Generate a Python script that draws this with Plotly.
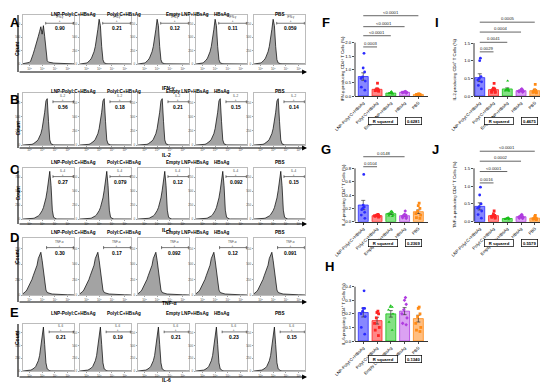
import plotly.graph_objects as go

W, H = 550, 391

# ---------------- data ----------------
groups = ["LNP-PolyI:C+HBsAg", "PolyI:C+HBsAg", "Empty LNP+HBsAg", "HBsAg", "PBS"]
cytokines = ["IFN-γ", "IL-2", "IL-4", "TNF-α", "IL-6"]

# flow histogram bins (log10 fluorescence)
bins = [1.5, 1.6, 1.7, 1.8, 1.9, 2.0, 2.1, 2.2, 2.3, 2.4, 2.5, 2.6, 2.7, 2.8, 2.9, 3.0,
        3.1, 3.2, 3.3, 3.4, 3.5, 3.6, 3.7, 3.8, 3.9, 4.0, 4.1, 4.2, 4.3, 4.4, 4.5, 4.6,
        4.7, 4.8, 4.9, 5.0, 5.1, 5.2, 5.3, 5.4, 5.5]
log_ticks = [2, 3, 4, 5]
log_ticktext = ["10<sup>2</sup>", "10<sup>3</sup>", "10<sup>4</sup>", "10<sup>5</sup>"]
count_ticks = [0, 250, 500, 750]

hist_A1 = [6, 8, 10, 14, 20, 30, 55, 110, 190, 270, 340, 420, 520, 610, 700, 560, 720, 520, 200, 60,
           35, 28, 24, 20, 18, 16, 14, 12, 12, 10, 9, 8, 8, 7, 6, 6, 5, 4, 4, 3, 3]
hist_A = [0, 2, 4, 6, 10, 18, 30, 48, 75, 110, 160, 230, 330, 470, 650, 840, 720, 330, 80, 20,
          8, 5, 3, 2, 2, 1, 1, 1, 0, 0, 0, 0, 0, 0, 0, 0, 0, 0, 0, 0, 0]
hist_B = [0, 0, 1, 2, 3, 5, 8, 12, 20, 32, 48, 70, 100, 140, 200, 290, 410, 580, 780, 820,
          420, 90, 20, 6, 3, 2, 1, 0, 0, 0, 0, 0, 0, 0, 0, 0, 0, 0, 0, 0, 0]
hist_C = [0, 0, 0, 0, 1, 2, 4, 7, 12, 18, 26, 38, 55, 78, 110, 150, 205, 280, 380, 520,
          700, 860, 600, 160, 30, 8, 3, 1, 0, 0, 0, 0, 0, 0, 0, 0, 0, 0, 0, 0, 0]
hist_D = [20, 35, 55, 80, 120, 160, 210, 250, 310, 360, 430, 480, 590, 640, 690, 560, 400, 200, 80, 40,
          30, 25, 20, 16, 14, 12, 10, 9, 8, 7, 6, 5, 5, 4, 4, 3, 3, 2, 2, 2, 1]
hist_E = [0, 1, 2, 4, 7, 12, 18, 28, 42, 62, 90, 135, 200, 300, 470, 720, 860, 520, 160, 40,
          12, 5, 2, 1, 0, 0, 0, 0, 0, 0, 0, 0, 0, 0, 0, 0, 0, 0, 0, 0, 0]

gate_A = ["0.90", "0.21", "0.12", "0.11", "0.059"]
gate_B = ["0.56", "0.18", "0.21", "0.15", "0.14"]
gate_C = ["0.27", "0.079", "0.12", "0.092", "0.15"]
gate_D = ["0.30", "0.17", "0.092", "0.12", "0.091"]
gate_E = ["0.21", "0.19", "0.21", "0.23", "0.15"]

# bar charts: means, SEM and individual mice
F_means = [0.73, 0.25, 0.11, 0.14, 0.06]
F_sem = [0.14, 0.04, 0.015, 0.01, 0.005]
F_pts = [[1.6, 1.05, 0.9, 0.72, 0.66, 0.56, 0.33, 0.22],
         [0.48, 0.27, 0.25, 0.22, 0.2, 0.22, 0.18, 0.2],
         [0.17, 0.14, 0.12, 0.1, 0.09, 0.08, 0.11, 0.09],
         [0.17, 0.16, 0.15, 0.14, 0.13, 0.12, 0.14, 0.11],
         [0.08, 0.07, 0.06, 0.06, 0.05, 0.05, 0.06, 0.05]]
F_sig = [(1, "0.0003"), (2, "<0.0001"), (3, "<0.0001"), (4, "<0.0001")]

I_means = [0.52, 0.18, 0.20, 0.15, 0.15]
I_sem = [0.11, 0.03, 0.03, 0.015, 0.03]
I_pts = [[1.07, 1.0, 0.55, 0.5, 0.45, 0.4, 0.3, 0.2],
         [0.36, 0.22, 0.2, 0.18, 0.15, 0.12, 0.1, 0.1],
         [0.43, 0.2, 0.2, 0.18, 0.17, 0.16, 0.15, 0.14],
         [0.2, 0.18, 0.17, 0.15, 0.14, 0.13, 0.12, 0.11],
         [0.33, 0.18, 0.15, 0.13, 0.12, 0.11, 0.1, 0.09]]
I_sig = [(1, "0.0029"), (2, "0.0041"), (3, "0.0004"), (4, "0.0005")]

G_means = [0.25, 0.09, 0.12, 0.09, 0.15]
G_sem = [0.07, 0.01, 0.012, 0.014, 0.027]
G_pts = [[0.71, 0.25, 0.22, 0.2, 0.18, 0.14, 0.1, 0.05],
         [0.11, 0.1, 0.1, 0.09, 0.08, 0.08, 0.07, 0.09],
         [0.16, 0.15, 0.14, 0.12, 0.1, 0.09, 0.08, 0.12],
         [0.16, 0.11, 0.1, 0.09, 0.08, 0.06, 0.05, 0.07],
         [0.28, 0.24, 0.2, 0.16, 0.12, 0.1, 0.06, 0.05]]
G_sig = [(1, "0.0104"), (3, "0.0148")]

J_means = [0.43, 0.17, 0.09, 0.14, 0.1]
J_sem = [0.1, 0.025, 0.008, 0.014, 0.014]
J_pts = [[0.97, 0.75, 0.5, 0.42, 0.38, 0.3, 0.2, 0.1],
         [0.3, 0.22, 0.18, 0.15, 0.12, 0.1, 0.15, 0.13],
         [0.12, 0.1, 0.09, 0.08, 0.08, 0.07, 0.1, 0.06],
         [0.2, 0.18, 0.15, 0.13, 0.12, 0.1, 0.15, 0.09],
         [0.18, 0.14, 0.1, 0.09, 0.08, 0.07, 0.06, 0.08]]
J_sig = [(1, "0.0016"), (2, "<0.0001"), (3, "0.0002"), (4, "<0.0001")]

H_means = [0.21, 0.15, 0.2, 0.22, 0.165]
H_sem = [0.033, 0.025, 0.024, 0.026, 0.025]
H_pts = [[0.37, 0.24, 0.24, 0.22, 0.2, 0.18, 0.1, 0.05],
         [0.22, 0.21, 0.2, 0.17, 0.13, 0.1, 0.08, 0.04],
         [0.26, 0.25, 0.25, 0.23, 0.2, 0.14, 0.08],
         [0.32, 0.3, 0.27, 0.23, 0.2, 0.17, 0.13, 0.12],
         [0.25, 0.24, 0.2, 0.18, 0.13, 0.1, 0.07, 0.08]]
H_sig = []

# ---------------- style / layout ----------------
FONT = "Liberation Sans, Arial, sans-serif"
edge = ["#2b2bff", "#ff2323", "#18c018", "#b03ce0", "#ff8a14"]
fill = ["rgba(70,70,255,0.65)", "rgba(255,70,70,0.65)", "rgba(50,205,50,0.6)",
        "rgba(195,100,235,0.6)", "rgba(255,155,60,0.65)"]
symbols = ["circle", "square", "triangle-up", "diamond", "square"]


def X(px):
    return px / W


def Y(py):
    return 1 - py / H


def ax(n):
    return "" if n == 1 else str(n)


fig = go.Figure()
layout = dict(width=W, height=H, margin=dict(l=0, r=0, t=0, b=0, autoexpand=False),
              paper_bgcolor="white", plot_bgcolor="white", showlegend=False,
              font=dict(family=FONT, color="black"))
shapes = []
annotations = []


def text(x, y, s, size, **kw):
    d = dict(x=x, y=y, text=s, showarrow=False, xref="paper", yref="paper",
             font=dict(size=size, family=FONT, color="black"))
    d.update(kw)
    annotations.append(d)


# ---------------- bar charts ----------------
charts = [
    dict(L="F", cyt="IFN-γ", means=F_means, sem=F_sem, pts=F_pts, sig=F_sig, r2="0.6281",
         ticks=[0, 0.5, 1.0, 1.5, 2.0], tt=["0.0", "0.5", "1.0", "1.5", "2.0"],
         xpx=(355, 428), ypx=(96, 8), yr=3.3, xr=[-0.6, 4.7], sig_y=[1.84, 2.26, 2.6, 3.01],
         ttl_x=343, let=(326, 13), r2y=117, r2x=383),
    dict(L="I", cyt="IL-2", means=I_means, sem=I_sem, pts=I_pts, sig=I_sig, r2="0.4675",
         ticks=[0, 0.5, 1.0, 1.5], tt=["0.0", "0.5", "1.0", "1.5"],
         xpx=(474, 540), ypx=(96, 7.7), yr=2.5, xr=[-0.42, 4.38], sig_y=[1.25, 1.52, 1.81, 2.09],
         ttl_x=459, let=(441, 13), r2y=117, r2x=499),
    dict(L="G", cyt="IL-4", means=G_means, sem=G_sem, pts=G_pts, sig=G_sig, r2="0.2369",
         ticks=[0, 0.2, 0.4, 0.6, 0.8], tt=["0.0", "0.2", "0.4", "0.6", "0.8"],
         xpx=(355, 428), ypx=(221.7, 148.4), yr=1.1, xr=[-0.6, 4.7], sig_y=[0.825, 0.975],
         ttl_x=343, let=(326, 149), r2y=243, r2x=383),
    dict(L="J", cyt="TNF-α", means=J_means, sem=J_sem, pts=J_pts, sig=J_sig, r2="0.5579",
         ticks=[0, 0.5, 1.0, 1.5], tt=["0.0", "0.5", "1.0", "1.5"],
         xpx=(474, 540), ypx=(221.7, 143.4), yr=2.2, xr=[-0.42, 4.38], sig_y=[1.09, 1.41, 1.70, 1.98],
         ttl_x=459, let=(441, 149), r2y=243, r2x=499),
    dict(L="H", cyt="IL-6", means=H_means, sem=H_sem, pts=H_pts, sig=H_sig, r2="0.1340",
         ticks=[0, 0.1, 0.2, 0.3, 0.4], tt=["0.0", "0.1", "0.2", "0.3", "0.4"],
         xpx=(355, 428), ypx=(341, 284), yr=0.42, xr=[-0.6, 4.7], sig_y=[],
         ttl_x=343, let=(329, 276), r2y=363, r2x=383),
]

for i, ch in enumerate(charts):
    n = i + 1
    a = ax(n)
    layout["xaxis" + a] = dict(domain=[X(ch["xpx"][0]), X(ch["xpx"][1])], anchor="y" + a,
                               type="category", categoryorder="array", categoryarray=groups,
                               range=ch["xr"], showline=True, linecolor="black", linewidth=0.8,
                               ticks="outside", ticklen=2, tickwidth=0.7, tickangle=-45,
                               tickcolor="black", automargin=False,
                               tickfont=dict(size=4.3, family=FONT), showgrid=False, zeroline=False)
    layout["yaxis" + a] = dict(domain=[Y(ch["ypx"][0]), Y(ch["ypx"][1])], anchor="x" + a,
                               range=[0, ch["yr"]], showline=False, tickvals=ch["ticks"],
                               ticktext=ch["tt"], ticks="outside", ticklen=2, tickwidth=0.7,
                               tickcolor="black", automargin=False,
                               tickfont=dict(size=4.3, family=FONT), showgrid=False, zeroline=False)
    fig.add_trace(go.Bar(x=groups, y=ch["means"], width=0.72, xaxis="x" + a, yaxis="y" + a,
                         marker=dict(color=fill, line=dict(color=edge, width=0.8)),
                         error_y=dict(type="data", array=ch["sem"], color="#333", thickness=0.7, width=2),
                         hoverinfo="skip"))
    for g in range(5):
        pts = ch["pts"][g]
        fig.add_trace(go.Box(x=[groups[g]] * len(pts), y=pts, xaxis="x" + a, yaxis="y" + a,
                             boxpoints="all", jitter=0.75, pointpos=0, width=0.6,
                             fillcolor="rgba(0,0,0,0)", line=dict(width=0, color="rgba(0,0,0,0)"),
                             marker=dict(size=2.8, color=edge[g], symbol=symbols[g]),
                             hoverinfo="skip"))
    # y axis line up to top tick
    shapes.append(dict(type="line", xref="x" + a + " domain", yref="y" + a, x0=0, x1=0,
                       y0=0, y1=ch["ticks"][-1], line=dict(color="black", width=0.8)))
    # significance brackets
    for (j, lab), yv in zip(ch["sig"], ch["sig_y"]):
        shapes.append(dict(type="line", xref="x" + a, yref="y" + a, x0=0, x1=j, y0=yv, y1=yv,
                           line=dict(color="#222", width=0.7)))
        annotations.append(dict(x=j / 2, y=yv, xref="x" + a, yref="y" + a, text=lab,
                                showarrow=False, yshift=3.5,
                                font=dict(size=4.2, family=FONT, color="#222")))
    # y title
    annotations.append(dict(x=X(ch["ttl_x"]), y=ch["ticks"][-1] / 2, xref="paper", yref="y" + a,
                            text=f"{ch['cyt']}-producing CD4<sup>+</sup> T Cells (%)",
                            textangle=-90, showarrow=False,
                            font=dict(size=4.3, family=FONT, color="black")))
    # panel letter
    text(X(ch["let"][0]), Y(ch["let"][1]), f"<b>{ch['L']}</b>", 13)
    # R squared box
    text(X(ch["r2x"] + 15), Y(ch["r2y"]), "<b>R squared</b>", 4.2, width=28, height=6,
         bordercolor="black", borderwidth=0.7, borderpad=0.5, bgcolor="white")
    text(X(ch["r2x"] + 39), Y(ch["r2y"]), f"<b>{ch['r2']}</b>", 4.2, width=15, height=6,
         bordercolor="black", borderwidth=0.7, borderpad=0.5, bgcolor="white")

# ---------------- flow histograms ----------------
hist_rows = [
    dict(L="A", h=[hist_A1, hist_A, hist_A, hist_A, hist_A], g=gate_A, gl=3.28),
    dict(L="B", h=[hist_B] * 5, g=gate_B, gl=3.85),
    dict(L="C", h=[hist_C] * 5, g=gate_C, gl=3.85),
    dict(L="D", h=[hist_D] * 5, g=gate_D, gl=3.35),
    dict(L="E", h=[hist_E] * 5, g=gate_E, gl=3.55),
]
panel_left = [23, 80, 138, 196, 254]
panel_w = 51
row_box = [(15, 64), (93, 145), (168, 219), (238, 295), (324, 371)]
row_title = [10, 87, 163, 232, 318]
row_axis = [72, 148, 224, 302, 377]
row_label = [83, 155, 230, 308, 385]
row_letter = [13, 90, 170, 237, 322]
GATE_Y = 765
AX_LEFT, AX_RIGHT = 18, 307

for r, row in enumerate(hist_rows):
    top, bot = row_box[r]
    for c in range(5):
        n = 6 + r * 5 + c
        a = ax(n)
        layout["xaxis" + a] = dict(domain=[X(panel_left[c]), X(panel_left[c] + panel_w)], anchor="y" + a,
                                   range=[1.5, 5.5], showline=True, mirror=True, linecolor="#a0a0a0",
                                   linewidth=0.7, ticks="outside", ticklen=1.5, tickwidth=0.5,
                                   tickcolor="#444", tickvals=log_ticks, ticktext=log_ticktext,
                                   automargin=False,
                                   tickfont=dict(size=3, family=FONT, color="#555"),
                                   showgrid=False, zeroline=False)
        layout["yaxis" + a] = dict(domain=[Y(bot), Y(top)], anchor="x" + a, range=[0, 920],
                                   showline=True, mirror=True, linecolor="#a0a0a0", linewidth=0.7,
                                   ticks="outside", ticklen=1.5, tickwidth=0.5, tickcolor="#444",
                                   tickvals=count_ticks, tickfont=dict(size=3, family=FONT, color="#555"),
                                   automargin=False, showgrid=False, zeroline=False)
        fig.add_trace(go.Scatter(x=bins, y=row["h"][c], xaxis="x" + a, yaxis="y" + a, mode="lines",
                                 line=dict(color="black", width=0.7), fill="tozeroy",
                                 fillcolor="#a3a3a3", hoverinfo="skip"))
        gl, gr = row["gl"], 5.45
        shapes.append(dict(type="line", xref="x" + a, yref="y" + a, x0=gl, x1=gr, y0=GATE_Y, y1=GATE_Y,
                           line=dict(color="#222", width=0.6)))
        for gx in (gl, gr):
            shapes.append(dict(type="line", xref="x" + a, yref="y" + a, x0=gx, x1=gx,
                               y0=GATE_Y - 25, y1=GATE_Y + 25, line=dict(color="#222", width=0.6)))
        annotations.append(dict(x=(gl + gr) / 2, y=GATE_Y, xref="x" + a, yref="y" + a,
                                text=f"<b>{row['g'][c]}</b>", showarrow=False, yshift=-5,
                                font=dict(size=5.0, family=FONT, color="black")))
        annotations.append(dict(x=(gl + gr) / 2, y=GATE_Y, xref="x" + a, yref="y" + a,
                                text=f"{cytokines[r]}<br>+", showarrow=False, yshift=4,
                                font=dict(size=3, family=FONT, color="#444")))
        text(X(panel_left[c] + panel_w / 2), Y(row_title[r]), f"<b>{groups[c]}</b>", 4.6)
    # big L-shaped axes
    shapes.append(dict(type="line", xref="paper", yref="paper", x0=X(AX_LEFT), x1=X(AX_LEFT),
                       y0=Y(top), y1=Y(row_axis[r]), line=dict(color="black", width=1.1)))
    annotations.append(dict(x=X(AX_RIGHT), y=Y(row_axis[r]), ax=-(AX_RIGHT - AX_LEFT), ay=0,
                            xref="paper", yref="paper", axref="pixel", ayref="pixel",
                            showarrow=True, arrowhead=2, arrowsize=0.9, arrowwidth=1.1,
                            arrowcolor="black", text=""))
    text(X(160), Y(row_label[r]), f"<b>{cytokines[r]}</b>", 5.0)
    text(X(12), Y((top + bot) / 2), "<b>Count</b>", 5.0, textangle=-90)
    text(X(8), Y(row_letter[r]), f"<b>{row['L']}</b>", 13)

layout["shapes"] = shapes
layout["annotations"] = annotations
fig.update_layout(**layout)
fig.write_html("out.html", config={"displayModeBar": False, "staticPlot": True},
               post_script="document.body.style.margin='0px';document.body.style.overflow='hidden';")
